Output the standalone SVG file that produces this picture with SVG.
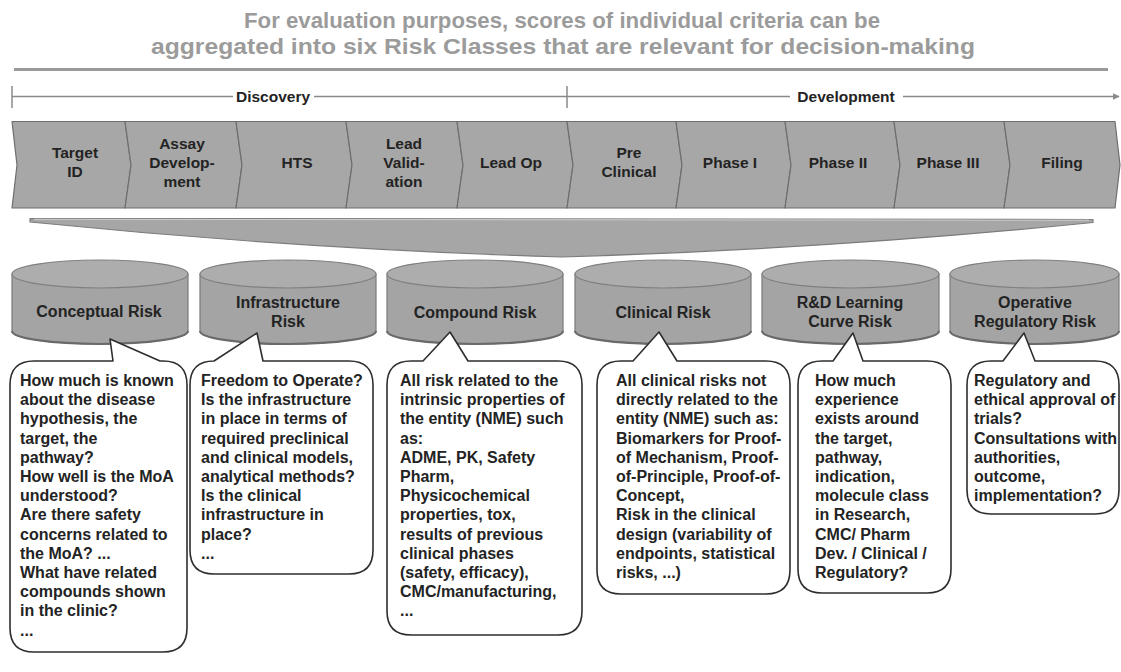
<svg xmlns="http://www.w3.org/2000/svg" width="1121" height="672" viewBox="0 0 1121 672">
  <style>
    .title { font-family: "Liberation Sans", Arial, sans-serif; font-weight: bold; font-size: 21.5px; fill: #9b9b9b; text-anchor: middle; }
    .lbl { font-family: "Liberation Sans", Arial, sans-serif; font-weight: bold; font-size: 15.5px; fill: #232323; text-anchor: middle; }
    .risk { font-family: "Liberation Sans", Arial, sans-serif; font-weight: bold; font-size: 16px; fill: #232323; text-anchor: middle; }
    .note { font-family: "Liberation Sans", Arial, sans-serif; font-weight: bold; font-size: 16px; fill: #232323; }
    .axis { stroke: #8a8a8a; stroke-width: 1.5; fill: none; }
    .step { fill: #a7a7a7; stroke: #6e6e6e; stroke-width: 1.2; stroke-linejoin: round; }
    .cyl-body { fill: #a4a4a4; stroke: #7a7a7a; stroke-width: 1.2; }
    .cyl-top { fill: #adadad; stroke: #808080; stroke-width: 1.2; }
    .cyl-base { fill: none; stroke: #6a6a6a; stroke-width: 2.2; }
    .callout { fill: #ffffff; stroke: #2e2e2e; stroke-width: 1.6; stroke-linejoin: round; }
  </style>
  <defs>
    <marker id="arrow" viewBox="0 0 10 10" refX="9" refY="5" markerWidth="7" markerHeight="7" orient="auto" markerUnits="userSpaceOnUse">
      <path d="M0,0 L10,5 L0,10 Z" fill="#8a8a8a"/>
    </marker>
    <symbol id="drum" viewBox="0 0 176 86" preserveAspectRatio="none" overflow="visible">
      <path class="cyl-body" d="M0,14 L0,71 A88,13 0 0 0 176,71 L176,14 Z"/>
      <path class="cyl-base" d="M0,71 A88,13 0 0 0 176,71"/>
      <ellipse class="cyl-top" cx="88" cy="14" rx="88" ry="14"/>
    </symbol>
  </defs>

  <!-- heading -->
  <g id="heading">
    <text class="title" x="562" y="28" textLength="636" lengthAdjust="spacingAndGlyphs">For evaluation purposes, scores of individual criteria can be</text>
    <text class="title" x="563" y="54" textLength="824" lengthAdjust="spacingAndGlyphs">aggregated into six Risk Classes that are relevant for decision-making</text>
    <line x1="14" y1="69.5" x2="1108" y2="69.5" stroke="#9a9a9a" stroke-width="3"/>
  </g>

  <!-- Discovery / Development axis -->
  <g id="timeline">
    <line class="axis" x1="12" y1="86" x2="12" y2="108"/>
    <line class="axis" x1="567" y1="86" x2="567" y2="108"/>
    <line class="axis" x1="12" y1="96.5" x2="233" y2="96.5"/>
    <line class="axis" x1="314" y1="96.5" x2="567" y2="96.5"/>
    <line class="axis" x1="567" y1="96.5" x2="790" y2="96.5"/>
    <line class="axis" x1="903" y1="96.5" x2="1119" y2="96.5" marker-end="url(#arrow)"/>
    <text class="lbl" x="273" y="102">Discovery</text>
    <text class="lbl" x="846" y="102">Development</text>
  </g>

  <!-- pipeline stages -->
  <g id="stage-target-id">
    <polygon class="step" points="12,121.5 125,121.5 131,165 125,208 12,208 17,165"/>
    <text class="lbl" x="75" y="158">Target</text>
    <text class="lbl" x="75" y="177">ID</text>
  </g>
  <g id="stage-assay">
    <polygon class="step" points="125,121.5 236,121.5 242,165 236,208 125,208 131,165"/>
    <text class="lbl" x="182" y="148.5">Assay</text>
    <text class="lbl" x="182" y="167.5">Develop-</text>
    <text class="lbl" x="182" y="186.5">ment</text>
  </g>
  <g id="stage-hts">
    <polygon class="step" points="236,121.5 346,121.5 352,165 346,208 236,208 242,165"/>
    <text class="lbl" x="297" y="168">HTS</text>
  </g>
  <g id="stage-lead-validation">
    <polygon class="step" points="346,121.5 457,121.5 463,165 457,208 346,208 352,165"/>
    <text class="lbl" x="404" y="148.5">Lead</text>
    <text class="lbl" x="404" y="167.5">Valid-</text>
    <text class="lbl" x="404" y="186.5">ation</text>
  </g>
  <g id="stage-lead-op">
    <polygon class="step" points="457,121.5 567,121.5 573,165 567,208 457,208 463,165"/>
    <text class="lbl" x="511" y="168">Lead Op</text>
  </g>
  <g id="stage-preclinical">
    <polygon class="step" points="567,121.5 676,121.5 682,165 676,208 567,208 573,165"/>
    <text class="lbl" x="629" y="158">Pre</text>
    <text class="lbl" x="629" y="177">Clinical</text>
  </g>
  <g id="stage-phase-1">
    <polygon class="step" points="676,121.5 785,121.5 791,165 785,208 676,208 682,165"/>
    <text class="lbl" x="730" y="168">Phase I</text>
  </g>
  <g id="stage-phase-2">
    <polygon class="step" points="785,121.5 894,121.5 900,165 894,208 785,208 791,165"/>
    <text class="lbl" x="838" y="168">Phase II</text>
  </g>
  <g id="stage-phase-3">
    <polygon class="step" points="894,121.5 1004,121.5 1010,165 1004,208 894,208 900,165"/>
    <text class="lbl" x="948" y="168">Phase III</text>
  </g>
  <g id="stage-filing">
    <polygon class="step" points="1004,121.5 1115,121.5 1120,165 1115,208 1004,208 1010,165"/>
    <text class="lbl" x="1062" y="168">Filing</text>
  </g>

  <!-- funnel gathering all stages into the risk classes -->
  <g id="connectors">
    <path d="M30,218.5 L1093,219.5 L1093,222.5 Q830,249 562,257 Q296,249 30,222 Z" fill="#a6a6a6" stroke="#7c7c7c" stroke-width="1.2" stroke-linejoin="round"/>
    <path d="M34,219.3 L1089,220.2" stroke="#d0d0d0" stroke-width="1"/>
  </g>

  <!-- risk classes -->
  <g id="risk-conceptual">
    <use href="#drum" x="12" y="260" width="176" height="86"/>
    <text class="risk" x="99" y="317">Conceptual Risk</text>
  </g>
  <g id="risk-infrastructure">
    <use href="#drum" x="200" y="260" width="176" height="86"/>
    <text class="risk" x="288" y="308">Infrastructure</text>
    <text class="risk" x="288" y="327">Risk</text>
  </g>
  <g id="risk-compound">
    <use href="#drum" x="387" y="260" width="176" height="86"/>
    <text class="risk" x="475" y="318">Compound Risk</text>
  </g>
  <g id="risk-clinical">
    <use href="#drum" x="575" y="260" width="176" height="86"/>
    <text class="risk" x="663" y="318">Clinical Risk</text>
  </g>
  <g id="risk-learning-curve">
    <use href="#drum" x="762" y="260" width="177" height="86"/>
    <text class="risk" x="850" y="308">R&amp;D Learning</text>
    <text class="risk" x="850" y="327">Curve Risk</text>
  </g>
  <g id="risk-regulatory">
    <use href="#drum" x="950" y="260" width="169" height="86"/>
    <text class="risk" x="1035" y="308">Operative</text>
    <text class="risk" x="1035" y="327">Regulatory Risk</text>
  </g>

  <!-- explanatory callouts -->
  <g id="note-conceptual">
    <path class="callout" d="M34,361 L113,361 L110,339 L160,361 L163,361 Q187,361 187,385 L187,628 Q187,652 163,652 L34,652 Q10,652 10,628 L10,385 Q10,361 34,361 Z"/>
    <text class="note" x="20" y="386">
      <tspan x="20" dy="0">How much is known</tspan>
      <tspan x="20" dy="19.2">about the disease</tspan>
      <tspan x="20" dy="19.2">hypothesis, the</tspan>
      <tspan x="20" dy="19.2">target, the</tspan>
      <tspan x="20" dy="19.2">pathway?</tspan>
      <tspan x="20" dy="19.2">How well is the MoA</tspan>
      <tspan x="20" dy="19.2">understood?</tspan>
      <tspan x="20" dy="19.2">Are there safety</tspan>
      <tspan x="20" dy="19.2">concerns related to</tspan>
      <tspan x="20" dy="19.2">the MoA? ...</tspan>
      <tspan x="20" dy="19.2">What have related</tspan>
      <tspan x="20" dy="19.2">compounds shown</tspan>
      <tspan x="20" dy="19.2">in the clinic?</tspan>
      <tspan x="20" dy="19.2">...</tspan>
    </text>
  </g>
  <g id="note-infrastructure">
    <path class="callout" d="M214,361 L257,333 L263,361 L349,361 Q373,361 373,385 L373,550 Q373,574 349,574 L214,574 Q190,574 190,550 L190,385 Q190,361 214,361 Z"/>
    <text class="note" x="201" y="386">
      <tspan x="201" dy="0">Freedom to Operate?</tspan>
      <tspan x="201" dy="19.2">Is the infrastructure</tspan>
      <tspan x="201" dy="19.2">in place in terms of</tspan>
      <tspan x="201" dy="19.2">required preclinical</tspan>
      <tspan x="201" dy="19.2">and clinical models,</tspan>
      <tspan x="201" dy="19.2">analytical methods?</tspan>
      <tspan x="201" dy="19.2">Is the clinical</tspan>
      <tspan x="201" dy="19.2">infrastructure in</tspan>
      <tspan x="201" dy="19.2">place?</tspan>
      <tspan x="201" dy="19.2">...</tspan>
    </text>
  </g>
  <g id="note-compound">
    <path class="callout" d="M411,361 L423,361 L450,332 L468,361 L558,361 Q582,361 582,385 L582,611 Q582,635 558,635 L411,635 Q387,635 387,611 L387,385 Q387,361 411,361 Z"/>
    <text class="note" x="400" y="386">
      <tspan x="400" dy="0">All risk related to the</tspan>
      <tspan x="400" dy="19.2">intrinsic properties of</tspan>
      <tspan x="400" dy="19.2">the entity (NME) such</tspan>
      <tspan x="400" dy="19.2">as:</tspan>
      <tspan x="400" dy="19.2">ADME, PK, Safety</tspan>
      <tspan x="400" dy="19.2">Pharm,</tspan>
      <tspan x="400" dy="19.2">Physicochemical</tspan>
      <tspan x="400" dy="19.2">properties, tox,</tspan>
      <tspan x="400" dy="19.2">results of previous</tspan>
      <tspan x="400" dy="19.2">clinical phases</tspan>
      <tspan x="400" dy="19.2">(safety, efficacy),</tspan>
      <tspan x="400" dy="19.2">CMC/manufacturing,</tspan>
      <tspan x="400" dy="19.2">...</tspan>
    </text>
  </g>
  <g id="note-clinical">
    <path class="callout" d="M621,361 L633,361 L659,332 L677,361 L766,361 Q790,361 790,385 L790,570 Q790,594 766,594 L621,594 Q597,594 597,570 L597,385 Q597,361 621,361 Z"/>
    <text class="note" x="616" y="386">
      <tspan x="616" dy="0">All clinical risks not</tspan>
      <tspan x="616" dy="19.2">directly related to the</tspan>
      <tspan x="616" dy="19.2">entity (NME) such as:</tspan>
      <tspan x="616" dy="19.2">Biomarkers for Proof-</tspan>
      <tspan x="616" dy="19.2">of Mechanism, Proof-</tspan>
      <tspan x="616" dy="19.2">of-Principle, Proof-of-</tspan>
      <tspan x="616" dy="19.2">Concept,</tspan>
      <tspan x="616" dy="19.2">Risk in the clinical</tspan>
      <tspan x="616" dy="19.2">design (variability of</tspan>
      <tspan x="616" dy="19.2">endpoints, statistical</tspan>
      <tspan x="616" dy="19.2">risks, ...)</tspan>
    </text>
  </g>
  <g id="note-learning-curve">
    <path class="callout" d="M822,361 L833,361 L853,333 L863,361 L927,361 Q951,361 951,385 L951,569 Q951,593 927,593 L822,593 Q798,593 798,569 L798,385 Q798,361 822,361 Z"/>
    <text class="note" x="815" y="386">
      <tspan x="815" dy="0">How much</tspan>
      <tspan x="815" dy="19.2">experience</tspan>
      <tspan x="815" dy="19.2">exists around</tspan>
      <tspan x="815" dy="19.2">the target,</tspan>
      <tspan x="815" dy="19.2">pathway,</tspan>
      <tspan x="815" dy="19.2">indication,</tspan>
      <tspan x="815" dy="19.2">molecule class</tspan>
      <tspan x="815" dy="19.2">in Research,</tspan>
      <tspan x="815" dy="19.2">CMC/ Pharm</tspan>
      <tspan x="815" dy="19.2">Dev. / Clinical /</tspan>
      <tspan x="815" dy="19.2">Regulatory?</tspan>
    </text>
  </g>
  <g id="note-regulatory">
    <path class="callout" d="M991,361 L1003,361 L1024,333 L1035,361 L1095,361 Q1119,361 1119,385 L1119,490 Q1119,514 1095,514 L991,514 Q967,514 967,490 L967,385 Q967,361 991,361 Z"/>
    <text class="note" x="974" y="386">
      <tspan x="974" dy="0">Regulatory and</tspan>
      <tspan x="974" dy="19.2">ethical approval of</tspan>
      <tspan x="974" dy="19.2">trials?</tspan>
      <tspan x="974" dy="19.2">Consultations with</tspan>
      <tspan x="974" dy="19.2">authorities,</tspan>
      <tspan x="974" dy="19.2">outcome,</tspan>
      <tspan x="974" dy="19.2">implementation?</tspan>
    </text>
  </g>
</svg>
